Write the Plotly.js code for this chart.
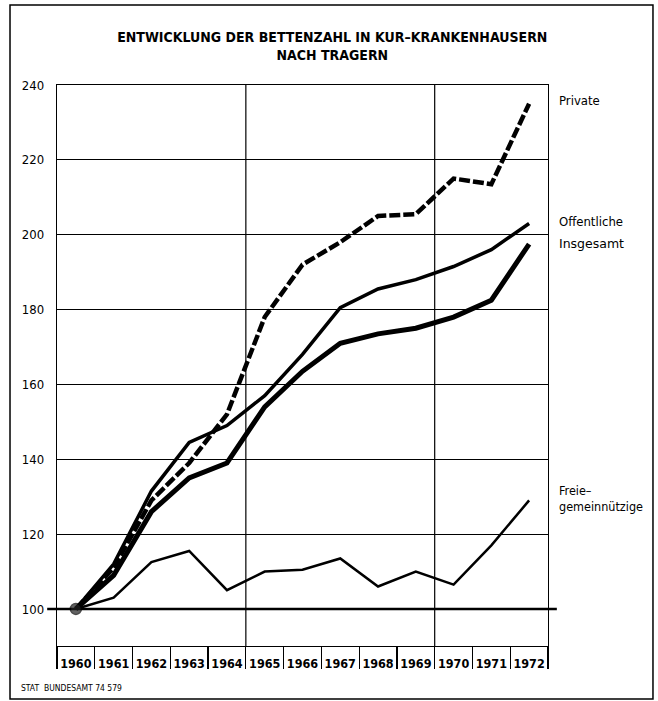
<!DOCTYPE html>
<html>
<head>
<meta charset="utf-8">
<script src="https://cdn.plot.ly/plotly-3.0.1.min.js"></script>
<style>
  html, body { margin: 0; padding: 0; background: #fff; }
  #chart { width: 658px; height: 701px; }
</style>
</head>
<body>
<div id="chart"></div>
<script>
// ---- data (index, 1960 = 100) ----
const years = [1960, 1961, 1962, 1963, 1964, 1965, 1966, 1967, 1968, 1969, 1970, 1971, 1972];
const yearLabels = ["1960", "1961", "1962", "1963", "1964", "1965", "1966", "1967", "1968", "1969", "1970", "1971", "1972"];
const privateVals      = [100, 111, 129, 139, 152, 178, 192, 198, 205, 205.5, 215, 213.5, 235];
const oeffentlicheVals = [100, 112, 131.5, 144.5, 149, 157, 168, 180.5, 185.5, 188, 191.5, 196, 203];
const insgesamtVals    = [100, 109, 126, 135, 139, 154, 163.5, 171, 173.5, 175, 178, 182.5, 197.5];
const freieVals        = [100, 103, 112.5, 115.5, 105, 110, 110.5, 113.5, 106, 110, 106.5, 117, 129];
const yTicks = [100, 120, 140, 160, 180, 200, 220, 240];
const periodBreaks = [1964.5, 1969.5];
const baseValue = 100;

const cond = "'DejaVu Sans Condensed', 'Liberation Sans Narrow', 'Arial Narrow', sans-serif";

const labelSeparators = years.map(y => y - 0.5).concat([years[years.length - 1] + 0.5]);

const traces = [
  { x: years, y: freieVals, mode: 'lines', line: { color: '#000', width: 2.5 }, hoverinfo: 'skip' },
  { x: years, y: oeffentlicheVals, mode: 'lines', line: { color: '#000', width: 3.5 }, hoverinfo: 'skip' },
  { x: years, y: privateVals, mode: 'lines', line: { color: '#000', width: 4.5, dash: '11px,3px' }, hoverinfo: 'skip' },
  { x: years, y: insgesamtVals, mode: 'lines+markers',
    line: { color: '#000', width: 5 },
    marker: { size: years.map((v, i) => i === 0 ? 11 : 0), color: '#222', line: { color: '#000', width: 1.5 } },
    hoverinfo: 'skip' }
];

const shapes = [
  { type: 'line', xref: 'paper', yref: 'y', x0: -0.02, x1: 1.018, y0: baseValue, y1: baseValue,
    line: { color: '#000', width: 2.5 }, layer: 'below' },
  { type: 'rect', xref: 'paper', yref: 'paper', x0: -0.0957, x1: 1.2138, y0: -0.0945, y1: 1.1426,
    line: { color: '#000', width: 1.5 } }
].concat(periodBreaks.map(b => ({
  type: 'line', xref: 'x', yref: 'paper', x0: b, x1: b, y0: 0, y1: 1,
  line: { color: '#000', width: 1.2 }, layer: 'below'
})));

const annotations = [
  { text: 'Private', x: 1.018, y: 0.973 },
  { text: 'Offentliche', x: 1.018, y: 0.756 },
  { text: 'Insgesamt', x: 1.018, y: 0.718, font: { family: "'DejaVu Sans', sans-serif", size: 12.5, color: '#000' } },
  { text: 'Freie–<br>gemeinnützige', x: 1.018, y: 0.263, font: { family: cond, size: 12.5, color: '#000' } },
  { text: 'STAT  BUNDESAMT 74 579', xref: 'paper', x: -0.078, y: -0.075, font: { family: cond, size: 8.5, color: '#000' } }
].map(a => Object.assign({
  xref: 'paper', yref: 'paper', xanchor: 'left', yanchor: 'middle', showarrow: false, align: 'left',
  font: { family: cond, size: 13, color: '#000' }
}, a));

const layout = {
  width: 658, height: 701,
  margin: { l: 57, r: 110, t: 85, b: 55 },
  paper_bgcolor: '#fff', plot_bgcolor: '#fff',
  showlegend: false,
  title: {
    text: 'ENTWICKLUNG DER BETTENZAHL IN KUR–KRANKENHAUSERN<br>NACH TRAGERN',
    x: 0.505, xref: 'container', xanchor: 'center',
    y: 0.94, yref: 'container', yanchor: 'middle',
    font: { family: cond, size: 14, color: '#000', weight: 'bold' }
  },
  xaxis: {
    range: [1959.5, 1972.5],
    tickvals: years, ticktext: yearLabels,
    ticks: '', showgrid: false, zeroline: false,
    showline: true, linecolor: '#000', linewidth: 1.2, mirror: true,
    ticklabelstandoff: 6,
    tickfont: { family: cond, size: 12.5, color: '#000', weight: 'bold' },
    minor: { tickvals: labelSeparators, ticks: 'outside', ticklen: 22, tickcolor: '#000', tickwidth: 1.2, showgrid: false }
  },
  yaxis: {
    range: [90.1, 240],
    tickvals: yTicks, ticktext: yTicks.map(String),
    ticks: '', showgrid: true, gridcolor: '#000', gridwidth: 1, zeroline: false,
    showline: true, linecolor: '#000', linewidth: 1.2, mirror: true,
    ticklabelstandoff: 9,
    tickfont: { family: cond, size: 13, color: '#000' }
  },
  shapes: shapes,
  annotations: annotations
};

Plotly.newPlot('chart', traces, layout, { staticPlot: true, displayModeBar: false });
</script>
</body>
</html>
